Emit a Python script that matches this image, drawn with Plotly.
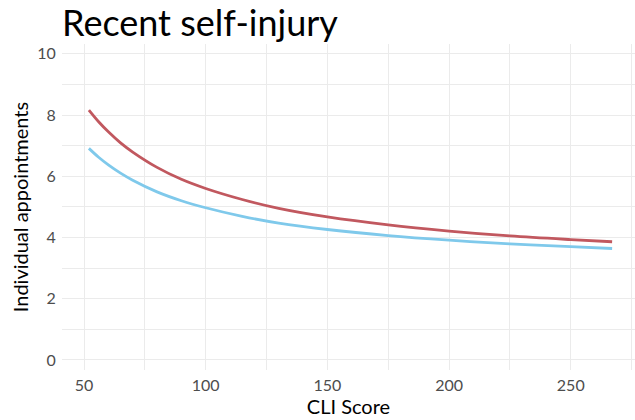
import plotly.graph_objects as go

# Data
cli_score = [52, 56, 60, 65, 70, 80, 90, 100, 115, 130, 150, 175, 200, 225, 250, 267]
series_red = [8.16, 7.78, 7.45, 7.09, 6.79, 6.29, 5.90, 5.60, 5.24, 4.95, 4.67, 4.41, 4.21, 4.05, 3.93, 3.86]
series_blue = [6.91, 6.62, 6.37, 6.10, 5.87, 5.49, 5.20, 4.97, 4.69, 4.47, 4.26, 4.06, 3.91, 3.79, 3.70, 3.64]
x_ticks = [50, 100, 150, 200, 250]
y_ticks = [0, 2, 4, 6, 8, 10]

RED = "#C1585F"
BLUE = "#7FC9EB"
GRID = "#EBEBEB"
FONT = "Lato, 'Open Sans', sans-serif"

fig = go.Figure()
fig.add_trace(go.Scatter(x=cli_score, y=series_blue, mode="lines",
                         line=dict(color=BLUE, width=2.8, shape="spline"),
                         showlegend=False, hoverinfo="skip"))
fig.add_trace(go.Scatter(x=cli_score, y=series_red, mode="lines",
                         line=dict(color=RED, width=2.8, shape="spline"),
                         showlegend=False, hoverinfo="skip"))

fig.update_layout(
    width=635, height=420,
    margin=dict(l=62, r=0, t=44, b=50),
    paper_bgcolor="white", plot_bgcolor="white",
    font=dict(family=FONT, color="#4D4D4D", size=16),
    title=dict(text="Recent self-injury", x=0, xref="paper", xanchor="left",
               y=0.974, yref="container", yanchor="top",
               font=dict(family=FONT, size=36, color="black")),
)
fig.update_xaxes(
    range=[40.95, 276.4], tickvals=x_ticks, ticktext=[str(v) for v in x_ticks],
    showgrid=True, gridcolor=GRID, gridwidth=1.1, zeroline=False, showline=False,
    ticks="outside", ticklen=1, tickcolor="rgba(0,0,0,0)", automargin=False,
    minor=dict(tickvals=[75, 125, 175, 225, 275], showgrid=True, gridcolor=GRID, gridwidth=0.6),
    title=dict(text="CLI Score", font=dict(family=FONT, size=20, color="black"), standoff=1),
    tickfont=dict(size=16, color="#4D4D4D"),
)
fig.update_yaxes(
    range=[-0.33, 10.32], tickvals=y_ticks, ticktext=[str(v) for v in y_ticks],
    showgrid=True, gridcolor=GRID, gridwidth=1.1, zeroline=False, showline=False,
    ticks="outside", ticklen=2, tickcolor="rgba(0,0,0,0)", automargin=False,
    minor=dict(tickvals=[1, 3, 5, 7, 9], showgrid=True, gridcolor=GRID, gridwidth=0.6),
    title=dict(text="Individual appointments", font=dict(family=FONT, size=20, color="black"), standoff=3),
    tickfont=dict(size=16, color="#4D4D4D"),
)

fig.write_html("out.html", config={"displayModeBar": False},
               post_script="document.body.style.margin='0';document.body.style.overflow='hidden';")
